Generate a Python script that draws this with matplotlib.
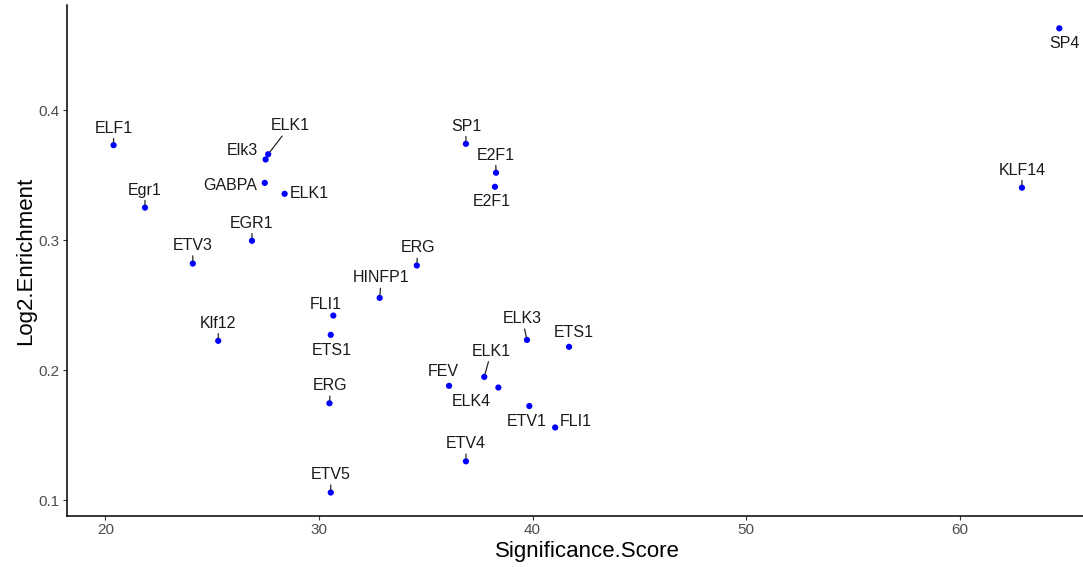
import numpy as np
import matplotlib.pyplot as plt

plt.rcParams["font.family"] = ["Liberation Sans", "DejaVu Sans"]

# -----------------------------------
# Motif enrichment results
# -----------------------------------

motifs = [
    "ELF1", "Egr1", "ETV3", "EGR1", "Elk3", "ELK1", "GABPA", "ELK1",
    "ERG", "HINFP1", "FLI1", "ETS1", "Klf12", "FEV", "ELK3", "ETS1",
    "ELK1", "ELK4", "ERG", "ETV1", "FLI1", "ETV4", "ETV5", "SP1",
    "E2F1", "E2F1", "SP4", "KLF14",
]

significance = [
    20.38, 21.85, 24.09, 26.86, 27.50, 27.62, 27.46, 28.39,
    34.58, 32.84, 30.67, 30.55, 25.28, 36.09, 39.74, 41.71,
    37.74, 38.40, 30.49, 39.85, 41.06, 36.88, 30.55, 36.88,
    38.29, 38.24, 64.67, 62.92,
]

log2_enrichment = [
    0.373, 0.325, 0.282, 0.2995, 0.362, 0.366, 0.344, 0.3356,
    0.2805, 0.2556, 0.242, 0.2272, 0.2226, 0.188, 0.2233, 0.218,
    0.1949, 0.1867, 0.1746, 0.1725, 0.156, 0.130, 0.106, 0.374,
    0.3518, 0.341, 0.4628, 0.3403,
]

# label offsets in pixels (dx, dy up) and whether a leader segment is drawn
label_offsets = [
    (0, 18.5), (0, 19), (0, 19.5), (0, 19), (-23.5, 10.3), (21.8, 30), (-34.5, -0.7), (25, 1.4),
    (1, 19), (1.7, 21.4), (-8, 12.8), (0.9, -14), (0, 19), (-6, 15.4), (-4.7, 22.7), (4.8, 16),
    (7, 27), (-27, -12.4), (1, 19), (-3, -14), (20.8, 7), (0.3, 19), (0, 19.3), (0, 19.2),
    (-0.5, 19), (-3.3, -13.3), (5.2, -13.9), (0, 19),
]

leader = [
    True, True, True, True, False, True, False, False,
    True, True, False, False, True, False, True, False,
    True, False, True, False, False, True, True, True,
    True, False, False, True,
]

# -----------------------------------
# Plot
# -----------------------------------

fig = plt.figure(figsize=(10.83, 5.67), dpi=100)
ax = fig.add_axes([0.0619, 0.0905, 0.9602, 0.9004])

ax.scatter(
    significance,
    log2_enrichment,
    s=20,
    color="#0000FF",
    edgecolors="none",
    zorder=3
)

for name, x, y, off, seg in zip(
    motifs, significance, log2_enrichment, label_offsets, leader
):
    ax.annotate(
        name,
        xy=(x, y),
        xytext=(off[0], off[1] - 1.5),
        textcoords="offset pixels",
        ha="center",
        va="center",
        fontsize=11.5,
        color="#1A1A1A",
        arrowprops=dict(
            arrowstyle="-",
            color="#262626",
            lw=0.9,
            shrinkA=0,
            shrinkB=2
        ) if seg else None,
        annotation_clip=False
    )

ax.set_xlim(18.2, 66.9)
ax.set_ylim(0.0882, 0.4806)

ax.set_xticks([20, 30, 40, 50, 60])
ax.set_yticks([0.1, 0.2, 0.3, 0.4])
ax.set_yticklabels(["0.1", "0.2", "0.3", "0.4"])

ax.tick_params(
    axis="both",
    length=2.7,
    width=0.8,
    color="#333333",
    labelsize=11,
    labelcolor="#4D4D4D",
    pad=2.5
)

for side in ["top", "right"]:
    ax.spines[side].set_visible(False)
for side in ["left", "bottom"]:
    ax.spines[side].set_linewidth(1.1)
    ax.spines[side].set_color("black")

ax.set_xlabel("Significance.Score", fontsize=16, labelpad=3)
ax.set_ylabel("Log2.Enrichment", fontsize=16, labelpad=2)

fig.savefig("out.png", dpi=100)
